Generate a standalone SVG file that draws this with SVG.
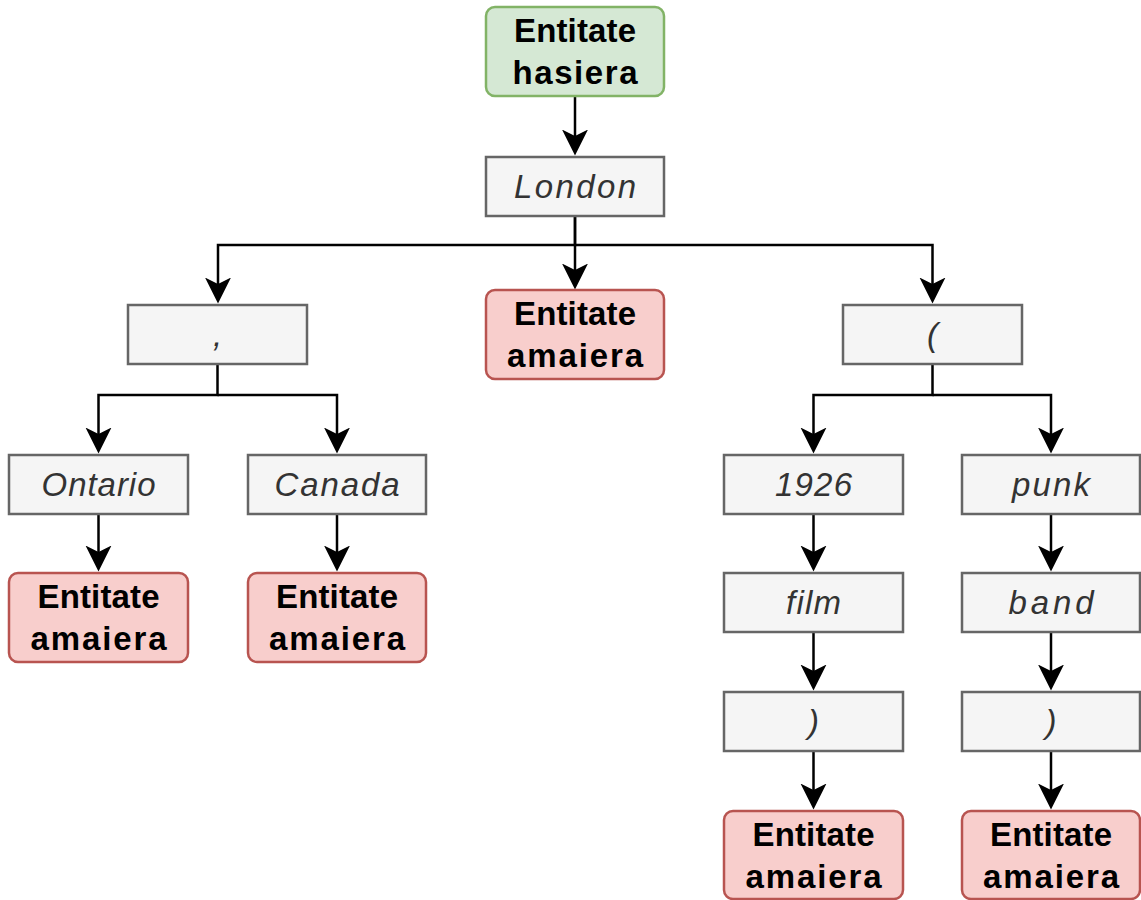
<svg xmlns="http://www.w3.org/2000/svg" width="1141" height="900" viewBox="0 0 1141 900">
  <style>
    .term rect { fill: #f5f5f5; stroke: #666666; stroke-width: 2.5; }
    .term text { font-family: "Liberation Sans", Arial, sans-serif; font-style: italic; font-size: 33px; fill: #333333; text-anchor: middle; }
    .ent rect { stroke-width: 2.5; }
    .ent text { font-family: "Liberation Sans", Arial, sans-serif; font-weight: bold; font-size: 33px; fill: #000000; text-anchor: middle; }
    .head rect { fill: #d5e8d4; stroke: #82b366; }
    .tail rect { fill: #f8cecc; stroke: #b85450; }
    .edges path { fill: none; stroke: #000000; stroke-width: 2.5; marker-end: url(#arrow); }
  </style>
  <defs>
    <marker id="arrow" markerUnits="userSpaceOnUse" markerWidth="30" markerHeight="30" viewBox="0 -15 30 30" refX="6.5" refY="0" orient="auto">
      <path d="M0,-13 L26,0 L0,13 L6.5,0 Z" fill="#000000"/>
    </marker>
  </defs>

  <rect width="1141" height="900" fill="#ffffff"/>

  <!-- connectors -->
  <g id="edges" class="edges">
    <path d="M575,96 V136"/>
    <path d="M575,216 V270"/>
    <path d="M575,216 V245 H218 V284"/>
    <path d="M575,245 H932.5 V284"/>
    <path d="M217.5,364 V395 H98.5 V434"/>
    <path d="M217.5,395 H337 V434"/>
    <path d="M98.5,514 V552"/>
    <path d="M337,514 V552"/>
    <path d="M932.5,364 V395 H813.5 V434"/>
    <path d="M932.5,395 H1051 V434"/>
    <path d="M813.5,514 V552"/>
    <path d="M1051,514 V552"/>
    <path d="M813.5,632 V671"/>
    <path d="M1051,632 V671"/>
    <path d="M813.5,751 V790"/>
    <path d="M1051,751 V790"/>
  </g>

  <!-- root entity -->
  <g id="root" class="ent head">
    <rect x="486" y="7" width="178" height="89" rx="9"/>
    <text x="575" y="42" textLength="122">Entitate</text>
    <text x="575" y="84" textLength="125">hasiera</text>
  </g>

  <g id="london" class="term">
    <rect x="486" y="157" width="178" height="59"/>
    <text x="575" y="197.5" textLength="122">London</text>
  </g>

  <g id="comma" class="term">
    <rect x="128" y="305" width="179" height="59"/>
    <text x="217.5" y="345.5">,</text>
  </g>

  <g id="end-london" class="ent tail">
    <rect x="486" y="290" width="178" height="89" rx="9"/>
    <text x="575" y="325" textLength="122">Entitate</text>
    <text x="575" y="367" textLength="136">amaiera</text>
  </g>

  <g id="paren-open" class="term">
    <rect x="843" y="305" width="179" height="59"/>
    <text x="932.5" y="345.5">(</text>
  </g>

  <g id="ontario" class="term">
    <rect x="9" y="455" width="179" height="59"/>
    <text x="98.5" y="495.5" textLength="114">Ontario</text>
  </g>

  <g id="canada" class="term">
    <rect x="248" y="455" width="178" height="59"/>
    <text x="337" y="495.5" textLength="125">Canada</text>
  </g>

  <g id="end-ontario" class="ent tail">
    <rect x="9" y="573" width="179" height="89" rx="9"/>
    <text x="98.5" y="608" textLength="122">Entitate</text>
    <text x="98.5" y="650" textLength="136">amaiera</text>
  </g>

  <g id="end-canada" class="ent tail">
    <rect x="248" y="573" width="178" height="89" rx="9"/>
    <text x="337" y="608" textLength="122">Entitate</text>
    <text x="337" y="650" textLength="136">amaiera</text>
  </g>

  <g id="year" class="term">
    <rect x="724" y="455" width="179" height="59"/>
    <text x="813.5" y="495.5" textLength="77">1926</text>
  </g>

  <g id="punk" class="term">
    <rect x="962" y="455" width="178" height="59"/>
    <text x="1051" y="495.5" textLength="78">punk</text>
  </g>

  <g id="film" class="term">
    <rect x="724" y="573" width="179" height="59"/>
    <text x="813.5" y="613.5" textLength="55">film</text>
  </g>

  <g id="band" class="term">
    <rect x="962" y="573" width="178" height="59"/>
    <text x="1051" y="613.5" textLength="85">band</text>
  </g>

  <g id="paren-close-1" class="term">
    <rect x="724" y="692" width="179" height="59"/>
    <text x="813.5" y="732.5">)</text>
  </g>

  <g id="paren-close-2" class="term">
    <rect x="962" y="692" width="178" height="59"/>
    <text x="1051" y="732.5">)</text>
  </g>

  <g id="end-film" class="ent tail">
    <rect x="724" y="811" width="179" height="88" rx="9"/>
    <text x="813.5" y="846" textLength="122">Entitate</text>
    <text x="813.5" y="888" textLength="136">amaiera</text>
  </g>

  <g id="end-band" class="ent tail">
    <rect x="962" y="811" width="178" height="88" rx="9"/>
    <text x="1051" y="846" textLength="122">Entitate</text>
    <text x="1051" y="888" textLength="136">amaiera</text>
  </g>
</svg>
